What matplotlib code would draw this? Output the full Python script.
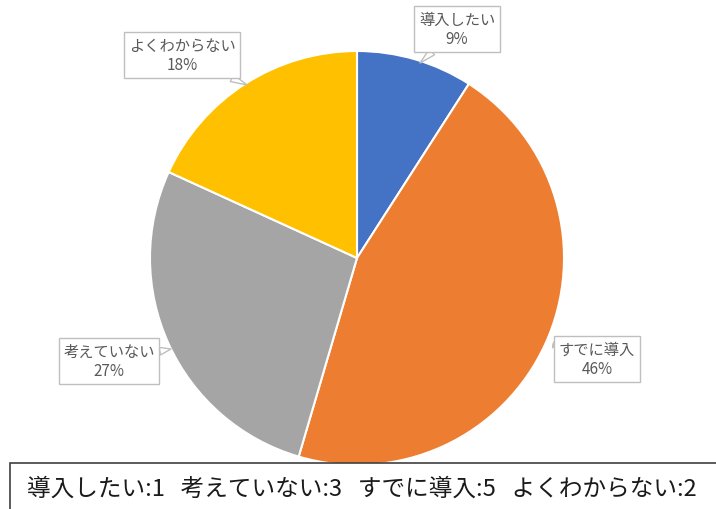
import matplotlib
matplotlib.use("Agg")
import matplotlib.pyplot as plt
from matplotlib.patches import Rectangle

plt.rcParams['font.family'] = ['Noto Sans CJK JP', 'DejaVu Sans']

# data (clockwise from top)
labels = ['導入したい', 'すでに導入', '考えていない', 'よくわからない']
counts = [1, 5, 3, 2]
pct_text = ['9%', '46%', '27%', '18%']
colors = ['#4472C4', '#ED7D31', '#A5A5A5', '#FFC000']
legend_order = ['導入したい', '考えていない', 'すでに導入', 'よくわからない']

# callout positions (pixel coords, y from top) and pointer targets
box_xy = [(457, 30), (597, 360), (109, 362), (182, 56)]
tip_xy = [(420, 64), (553, 345), (171, 350), (247, 86)]

W, H = 716, 510
fig = plt.figure(figsize=(W / 100, H / 100), dpi=100)
ax = fig.add_axes([0, 0, 1, 1])

cx, cy, r = 357, 259, 207
ax.pie(counts, colors=colors, startangle=90, counterclock=False,
       center=(cx, H - cy), radius=r, frame=True,
       wedgeprops=dict(edgecolor='white', linewidth=1.5))
ax.set_xlim(0, W)
ax.set_ylim(0, H)
ax.axis('off')

for lab, p, (bx, by), (tx, ty) in zip(labels, pct_text, box_xy, tip_xy):
    ax.annotate(f'{lab}\n{p}', xy=(tx, H - ty), xytext=(bx, H - by),
                ha='center', va='center', fontsize=11, color='#595959',
                linespacing=1.15,
                bbox=dict(boxstyle='square,pad=0.3', fc='white', ec='#BFBFBF', lw=1),
                arrowprops=dict(arrowstyle='wedge,tail_width=0.5', fc='white',
                                ec='#BFBFBF', lw=1, shrinkA=0, shrinkB=0))

# bottom count box
ax.add_patch(Rectangle((10, -5), W, H - 464 + 5, fc='white', ec='#404040', lw=1.2, clip_on=False))
summary = '   '.join(f'{l}:{c}' for l, c in zip(legend_order, [counts[labels.index(l)] for l in legend_order]))
ax.text(362, H - 489, summary, ha='center', va='center', fontsize=17, color='#1a1a1a')

fig.savefig('out.png', dpi=100)
